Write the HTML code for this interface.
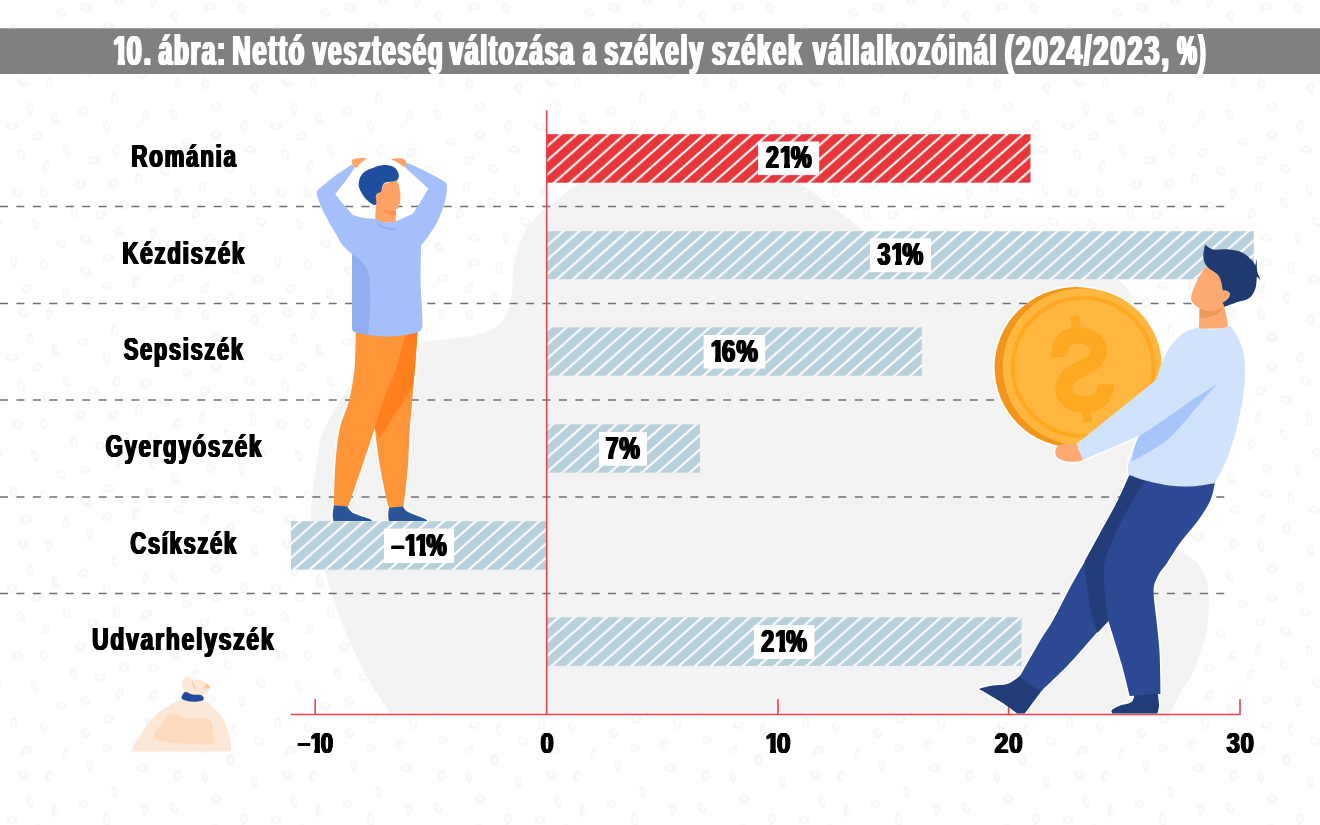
<!DOCTYPE html>
<html lang="hu">
<head>
<meta charset="utf-8">
<title>10. ábra: Nettó veszteség változása a székely székek vállalkozóinál (2024/2023, %)</title>
<style>
html,body{margin:0;padding:0;background:#fff;}
body{width:1320px;height:825px;overflow:hidden;font-family:"Liberation Sans",sans-serif;}
svg{display:block;position:absolute;left:0;top:0;}
#stage{position:relative;width:1320px;height:825px;overflow:hidden;}
#txt{position:absolute;left:0;top:0;width:1320px;height:825px;}
.t{position:absolute;left:0;top:0;white-space:nowrap;font-family:"Liberation Sans",sans-serif;font-weight:bold;line-height:1;color:#000;transform-origin:0 0;font-kerning:none;}
.t.w{color:#fff;}
.t i{display:inline-block;font-style:normal;margin-right:-0.13em;}
.t span{position:absolute;left:0;top:0;transform-origin:0 0;}
</style>
</head>
<body>
<div id="stage">
<svg width="1320" height="825" viewBox="0 0 1320 825">
<defs>
  <pattern id="hatchR" patternUnits="userSpaceOnUse" width="15.93" height="14.146" patternTransform="translate(549.6 144.35)">
    <rect width="15.93" height="14.146" fill="#e8363a"/>
    <path d="M-15.93 14.146L0 0M-7.965 21.219L23.895 -7.073M15.93 14.146L31.86 0" stroke="#fff" stroke-width="2.1" stroke-linecap="square" fill="none"/>
  </pattern>
  <pattern id="hatchB" patternUnits="userSpaceOnUse" width="15.93" height="14.146" patternTransform="translate(549.6 144.35)">
    <rect width="15.93" height="14.146" fill="#b8d0dc"/>
    <path d="M-15.93 14.146L0 0M-7.965 21.219L23.895 -7.073M15.93 14.146L31.86 0" stroke="#fff" stroke-width="2.1" stroke-linecap="square" fill="none"/>
  </pattern>
  <pattern id="coins" patternUnits="userSpaceOnUse" width="264" height="231">
    <g transform="translate(164.4 171.4) rotate(31)"><ellipse rx="6.1" ry="4.5" fill="#f8f8f8"/><ellipse cx="0.0" cy="-0.7" rx="2.4" ry="2.0" fill="#fefefe"/></g>
    <g transform="translate(195.3 213.1) rotate(24)"><ellipse rx="3.9" ry="6.3" fill="#f8f8f8"/><ellipse cx="0.7" cy="0.0" rx="1.4" ry="2.9" fill="#fefefe"/></g>
    <g transform="translate(204.9 57.5) rotate(28)"><ellipse rx="3.9" ry="6.3" fill="#f8f8f8"/><ellipse cx="0.7" cy="0.0" rx="1.4" ry="2.9" fill="#fefefe"/></g>
    <g transform="translate(29.9 108.4) rotate(-8)"><ellipse rx="3.9" ry="6.3" fill="#f8f8f8"/><ellipse cx="0.7" cy="0.0" rx="1.4" ry="2.9" fill="#fefefe"/></g>
    <g transform="translate(26.9 57.6) rotate(-20)"><ellipse rx="6.1" ry="4.5" fill="#f8f8f8"/><ellipse cx="0.0" cy="-0.7" rx="2.4" ry="2.0" fill="#fefefe"/></g>
    <g transform="translate(73.8 211.7) rotate(-24)"><ellipse rx="3.9" ry="6.3" fill="#f8f8f8"/><ellipse cx="0.7" cy="0.0" rx="1.4" ry="2.9" fill="#fefefe"/></g>
    <g transform="translate(210.4 32.1) rotate(-4)"><ellipse rx="6.1" ry="4.5" fill="#f8f8f8"/><ellipse cx="0.0" cy="-0.7" rx="2.4" ry="2.0" fill="#fefefe"/></g>
    <g transform="translate(34.9 -6.4) rotate(-20)"><ellipse rx="3.9" ry="6.3" fill="#f8f8f8"/><ellipse cx="0.7" cy="0.0" rx="1.4" ry="2.9" fill="#fefefe"/></g>
    <g transform="translate(34.9 224.6) rotate(-20)"><ellipse rx="3.9" ry="6.3" fill="#f8f8f8"/><ellipse cx="0.7" cy="0.0" rx="1.4" ry="2.9" fill="#fefefe"/></g>
    <g transform="translate(230.3 66.8) rotate(3)"><ellipse rx="3.9" ry="6.3" fill="#f8f8f8"/><ellipse cx="0.7" cy="0.0" rx="1.4" ry="2.9" fill="#fefefe"/></g>
    <g transform="translate(178.9 47.3) rotate(-21)"><ellipse rx="6.1" ry="4.5" fill="#f8f8f8"/><ellipse cx="0.0" cy="-0.7" rx="2.4" ry="2.0" fill="#fefefe"/></g>
    <g transform="translate(254.8 88.5) rotate(-10)"><ellipse rx="3.9" ry="6.3" fill="#f8f8f8"/><ellipse cx="0.7" cy="0.0" rx="1.4" ry="2.9" fill="#fefefe"/></g>
    <g transform="translate(43.8 33.7) rotate(-12)"><ellipse rx="3.9" ry="6.3" fill="#f8f8f8"/><ellipse cx="0.7" cy="0.0" rx="1.4" ry="2.9" fill="#fefefe"/></g>
    <g transform="translate(215.8 135.4) rotate(12)"><ellipse rx="6.1" ry="4.5" fill="#f8f8f8"/><ellipse cx="0.0" cy="-0.7" rx="2.4" ry="2.0" fill="#fefefe"/></g>
    <g transform="translate(89.2 71.6) rotate(-1)"><ellipse rx="3.9" ry="6.3" fill="#f8f8f8"/><ellipse cx="0.7" cy="0.0" rx="1.4" ry="2.9" fill="#fefefe"/></g>
    <g transform="translate(83.4 111.2) rotate(-23)"><ellipse rx="6.1" ry="4.5" fill="#f8f8f8"/><ellipse cx="0.0" cy="-0.7" rx="2.4" ry="2.0" fill="#fefefe"/></g>
    <g transform="translate(106.7 126.8) rotate(-9)"><ellipse rx="3.9" ry="6.3" fill="#f8f8f8"/><ellipse cx="0.7" cy="0.0" rx="1.4" ry="2.9" fill="#fefefe"/></g>
    <g transform="translate(152.7 2.1) rotate(15)"><ellipse rx="3.9" ry="6.3" fill="#f8f8f8"/><ellipse cx="0.7" cy="0.0" rx="1.4" ry="2.9" fill="#fefefe"/></g>
    <g transform="translate(152.7 233.1) rotate(15)"><ellipse rx="3.9" ry="6.3" fill="#f8f8f8"/><ellipse cx="0.7" cy="0.0" rx="1.4" ry="2.9" fill="#fefefe"/></g>
    <g transform="translate(216.3 106.8) rotate(-10)"><ellipse rx="6.1" ry="4.5" fill="#f8f8f8"/><ellipse cx="0.0" cy="-0.7" rx="2.4" ry="2.0" fill="#fefefe"/></g>
    <g transform="translate(138.5 179.2) rotate(6)"><ellipse rx="3.9" ry="6.3" fill="#f8f8f8"/><ellipse cx="0.7" cy="0.0" rx="1.4" ry="2.9" fill="#fefefe"/></g>
    <g transform="translate(-5.7 48.2) rotate(8)"><ellipse rx="6.1" ry="4.5" fill="#f8f8f8"/><ellipse cx="0.0" cy="-0.7" rx="2.4" ry="2.0" fill="#fefefe"/></g>
    <g transform="translate(258.3 48.2) rotate(8)"><ellipse rx="6.1" ry="4.5" fill="#f8f8f8"/><ellipse cx="0.0" cy="-0.7" rx="2.4" ry="2.0" fill="#fefefe"/></g>
    <g transform="translate(244.0 125.9) rotate(13)"><ellipse rx="3.9" ry="6.3" fill="#f8f8f8"/><ellipse cx="0.7" cy="0.0" rx="1.4" ry="2.9" fill="#fefefe"/></g>
    <g transform="translate(80.8 184.5) rotate(-25)"><ellipse rx="6.1" ry="4.5" fill="#f8f8f8"/><ellipse cx="0.0" cy="-0.7" rx="2.4" ry="2.0" fill="#fefefe"/></g>
    <g transform="translate(107.2 54.8) rotate(-11)"><ellipse rx="6.1" ry="4.5" fill="#f8f8f8"/><ellipse cx="0.0" cy="-0.7" rx="2.4" ry="2.0" fill="#fefefe"/></g>
    <g transform="translate(66.1 150.4) rotate(-31)"><ellipse rx="3.9" ry="6.3" fill="#f8f8f8"/><ellipse cx="0.7" cy="0.0" rx="1.4" ry="2.9" fill="#fefefe"/></g>
    <g transform="translate(241.8 7.6) rotate(-12)"><ellipse rx="3.9" ry="6.3" fill="#f8f8f8"/><ellipse cx="0.7" cy="0.0" rx="1.4" ry="2.9" fill="#fefefe"/></g>
    <g transform="translate(241.8 238.6) rotate(-12)"><ellipse rx="3.9" ry="6.3" fill="#f8f8f8"/><ellipse cx="0.7" cy="0.0" rx="1.4" ry="2.9" fill="#fefefe"/></g>
    <g transform="translate(148.9 30.7) rotate(-28)"><ellipse rx="3.9" ry="6.3" fill="#f8f8f8"/><ellipse cx="0.7" cy="0.0" rx="1.4" ry="2.9" fill="#fefefe"/></g>
    <g transform="translate(119.6 -0.2) rotate(33)"><ellipse rx="3.9" ry="6.3" fill="#f8f8f8"/><ellipse cx="0.7" cy="0.0" rx="1.4" ry="2.9" fill="#fefefe"/></g>
    <g transform="translate(119.6 230.8) rotate(33)"><ellipse rx="3.9" ry="6.3" fill="#f8f8f8"/><ellipse cx="0.7" cy="0.0" rx="1.4" ry="2.9" fill="#fefefe"/></g>
    <g transform="translate(-3.1 221.7) rotate(31)"><ellipse rx="6.1" ry="4.5" fill="#f8f8f8"/><ellipse cx="0.0" cy="-0.7" rx="2.4" ry="2.0" fill="#fefefe"/></g>
    <g transform="translate(260.9 221.7) rotate(31)"><ellipse rx="6.1" ry="4.5" fill="#f8f8f8"/><ellipse cx="0.0" cy="-0.7" rx="2.4" ry="2.0" fill="#fefefe"/></g>
    <g transform="translate(144.7 116.2) rotate(20)"><ellipse rx="3.9" ry="6.3" fill="#f8f8f8"/><ellipse cx="0.7" cy="0.0" rx="1.4" ry="2.9" fill="#fefefe"/></g>
    <g transform="translate(204.6 160.5) rotate(-33)"><ellipse rx="6.1" ry="4.5" fill="#f8f8f8"/><ellipse cx="0.0" cy="-0.7" rx="2.4" ry="2.0" fill="#fefefe"/></g>
    <g transform="translate(176.4 192.9) rotate(19)"><ellipse rx="3.9" ry="6.3" fill="#f8f8f8"/><ellipse cx="0.7" cy="0.0" rx="1.4" ry="2.9" fill="#fefefe"/></g>
    <g transform="translate(249.6 150.1) rotate(25)"><ellipse rx="6.1" ry="4.5" fill="#f8f8f8"/><ellipse cx="0.0" cy="-0.7" rx="2.4" ry="2.0" fill="#fefefe"/></g>
    <g transform="translate(177.8 82.4) rotate(10)"><ellipse rx="3.9" ry="6.3" fill="#f8f8f8"/><ellipse cx="0.7" cy="0.0" rx="1.4" ry="2.9" fill="#fefefe"/></g>
    <g transform="translate(43.9 193.3) rotate(-15)"><ellipse rx="3.9" ry="6.3" fill="#f8f8f8"/><ellipse cx="0.7" cy="0.0" rx="1.4" ry="2.9" fill="#fefefe"/></g>
    <g transform="translate(20.8 155.0) rotate(-23)"><ellipse rx="3.9" ry="6.3" fill="#f8f8f8"/><ellipse cx="0.7" cy="0.0" rx="1.4" ry="2.9" fill="#fefefe"/></g>
    <g transform="translate(116.4 150.2) rotate(18)"><ellipse rx="3.9" ry="6.3" fill="#f8f8f8"/><ellipse cx="0.7" cy="0.0" rx="1.4" ry="2.9" fill="#fefefe"/></g>
    <g transform="translate(174.9 16.6) rotate(-18)"><ellipse rx="3.9" ry="6.3" fill="#f8f8f8"/><ellipse cx="0.7" cy="0.0" rx="1.4" ry="2.9" fill="#fefefe"/></g>
    <g transform="translate(108.3 26.6) rotate(-9)"><ellipse rx="6.1" ry="4.5" fill="#f8f8f8"/><ellipse cx="0.0" cy="-0.7" rx="2.4" ry="2.0" fill="#fefefe"/></g>
    <g transform="translate(253.0 189.1) rotate(-6)"><ellipse rx="3.9" ry="6.3" fill="#f8f8f8"/><ellipse cx="0.7" cy="0.0" rx="1.4" ry="2.9" fill="#fefefe"/></g>
    <g transform="translate(142.4 75.2) rotate(-9)"><ellipse rx="6.1" ry="4.5" fill="#f8f8f8"/><ellipse cx="0.0" cy="-0.7" rx="2.4" ry="2.0" fill="#fefefe"/></g>
    <g transform="translate(64.9 61.8) rotate(16)"><ellipse rx="3.9" ry="6.3" fill="#f8f8f8"/><ellipse cx="0.7" cy="0.0" rx="1.4" ry="2.9" fill="#fefefe"/></g>
    <g transform="translate(228.0 203.4) rotate(-34)"><ellipse rx="3.9" ry="6.3" fill="#f8f8f8"/><ellipse cx="0.7" cy="0.0" rx="1.4" ry="2.9" fill="#fefefe"/></g>
    <g transform="translate(186.9 141.7) rotate(2)"><ellipse rx="6.1" ry="4.5" fill="#f8f8f8"/><ellipse cx="0.0" cy="-0.7" rx="2.4" ry="2.0" fill="#fefefe"/></g>
    <g transform="translate(17.4 193.2) rotate(20)"><ellipse rx="6.1" ry="4.5" fill="#f8f8f8"/><ellipse cx="0.0" cy="-0.7" rx="2.4" ry="2.0" fill="#fefefe"/></g>
    <g transform="translate(146.7 152.5) rotate(-30)"><ellipse rx="6.1" ry="4.5" fill="#f8f8f8"/><ellipse cx="0.0" cy="-0.7" rx="2.4" ry="2.0" fill="#fefefe"/></g>
    <g transform="translate(210.3 6.8) rotate(-8)"><ellipse rx="6.1" ry="4.5" fill="#f8f8f8"/><ellipse cx="0.0" cy="-0.7" rx="2.4" ry="2.0" fill="#fefefe"/></g>
    <g transform="translate(210.3 237.8) rotate(-8)"><ellipse rx="6.1" ry="4.5" fill="#f8f8f8"/><ellipse cx="0.0" cy="-0.7" rx="2.4" ry="2.0" fill="#fefefe"/></g>
    <g transform="translate(113.3 183.5) rotate(-27)"><ellipse rx="6.1" ry="4.5" fill="#f8f8f8"/><ellipse cx="0.0" cy="-0.7" rx="2.4" ry="2.0" fill="#fefefe"/></g>
    <g transform="translate(124.1 205.5) rotate(30)"><ellipse rx="6.1" ry="4.5" fill="#f8f8f8"/><ellipse cx="0.0" cy="-0.7" rx="2.4" ry="2.0" fill="#fefefe"/></g>
    <g transform="translate(48.7 83.5) rotate(16)"><ellipse rx="3.9" ry="6.3" fill="#f8f8f8"/><ellipse cx="0.7" cy="0.0" rx="1.4" ry="2.9" fill="#fefefe"/></g>
    <g transform="translate(11.9 126.7) rotate(5)"><ellipse rx="6.1" ry="4.5" fill="#f8f8f8"/><ellipse cx="0.0" cy="-0.7" rx="2.4" ry="2.0" fill="#fefefe"/></g>
    <g transform="translate(85.3 7.9) rotate(18)"><ellipse rx="6.1" ry="4.5" fill="#f8f8f8"/><ellipse cx="0.0" cy="-0.7" rx="2.4" ry="2.0" fill="#fefefe"/></g>
    <g transform="translate(85.3 238.9) rotate(18)"><ellipse rx="6.1" ry="4.5" fill="#f8f8f8"/><ellipse cx="0.0" cy="-0.7" rx="2.4" ry="2.0" fill="#fefefe"/></g>
    <g transform="translate(13.4 30.1) rotate(-4)"><ellipse rx="3.9" ry="6.3" fill="#f8f8f8"/><ellipse cx="0.7" cy="0.0" rx="1.4" ry="2.9" fill="#fefefe"/></g>
    <g transform="translate(114.7 99.2) rotate(-13)"><ellipse rx="3.9" ry="6.3" fill="#f8f8f8"/><ellipse cx="0.7" cy="0.0" rx="1.4" ry="2.9" fill="#fefefe"/></g>
    <g transform="translate(23.0 82.2) rotate(25)"><ellipse rx="6.1" ry="4.5" fill="#f8f8f8"/><ellipse cx="0.0" cy="-0.7" rx="2.4" ry="2.0" fill="#fefefe"/></g>
    <g transform="translate(85.6 39.9) rotate(34)"><ellipse rx="6.1" ry="4.5" fill="#f8f8f8"/><ellipse cx="0.0" cy="-0.7" rx="2.4" ry="2.0" fill="#fefefe"/></g>
    <g transform="translate(173.6 115.0) rotate(-24)"><ellipse rx="3.9" ry="6.3" fill="#f8f8f8"/><ellipse cx="0.7" cy="0.0" rx="1.4" ry="2.9" fill="#fefefe"/></g>
    <g transform="translate(55.2 118.9) rotate(-8)"><ellipse rx="3.9" ry="6.3" fill="#f8f8f8"/><ellipse cx="0.7" cy="0.0" rx="1.4" ry="2.9" fill="#fefefe"/></g>
    <g transform="translate(46.3 166.3) rotate(24)"><ellipse rx="3.9" ry="6.3" fill="#f8f8f8"/><ellipse cx="0.7" cy="0.0" rx="1.4" ry="2.9" fill="#fefefe"/></g>
    <g transform="translate(61.3 12.8) rotate(16)"><ellipse rx="6.1" ry="4.5" fill="#f8f8f8"/><ellipse cx="0.0" cy="-0.7" rx="2.4" ry="2.0" fill="#fefefe"/></g>
    <g transform="translate(92.8 160.5) rotate(-18)"><ellipse rx="6.1" ry="4.5" fill="#f8f8f8"/><ellipse cx="0.0" cy="-0.7" rx="2.4" ry="2.0" fill="#fefefe"/></g>
    <g transform="translate(153.6 206.2) rotate(6)"><ellipse rx="6.1" ry="4.5" fill="#f8f8f8"/><ellipse cx="0.0" cy="-0.7" rx="2.4" ry="2.0" fill="#fefefe"/></g>
    <g transform="translate(202.0 187.5) rotate(21)"><ellipse rx="3.9" ry="6.3" fill="#f8f8f8"/><ellipse cx="0.7" cy="0.0" rx="1.4" ry="2.9" fill="#fefefe"/></g>
    <g transform="translate(229.4 169.1) rotate(26)"><ellipse rx="6.1" ry="4.5" fill="#f8f8f8"/><ellipse cx="0.0" cy="-0.7" rx="2.4" ry="2.0" fill="#fefefe"/></g>
    <g transform="translate(100.3 215.5) rotate(-11)"><ellipse rx="6.1" ry="4.5" fill="#f8f8f8"/><ellipse cx="0.0" cy="-0.7" rx="2.4" ry="2.0" fill="#fefefe"/></g>
    <g transform="translate(135.6 51.5) rotate(12)"><ellipse rx="3.9" ry="6.3" fill="#f8f8f8"/><ellipse cx="0.7" cy="0.0" rx="1.4" ry="2.9" fill="#fefefe"/></g>
    <g transform="translate(205.0 83.8) rotate(-10)"><ellipse rx="3.9" ry="6.3" fill="#f8f8f8"/><ellipse cx="0.7" cy="0.0" rx="1.4" ry="2.9" fill="#fefefe"/></g>
    <g transform="translate(235.0 36.9) rotate(-3)"><ellipse rx="3.9" ry="6.3" fill="#f8f8f8"/><ellipse cx="0.7" cy="0.0" rx="1.4" ry="2.9" fill="#fefefe"/></g>
    <g transform="translate(37.1 136.1) rotate(-33)"><ellipse rx="6.1" ry="4.5" fill="#f8f8f8"/><ellipse cx="0.0" cy="-0.7" rx="2.4" ry="2.0" fill="#fefefe"/></g>
  </pattern>
</defs>
<rect width="1320" height="825" fill="#fff"/>
<rect width="1320" height="825" fill="url(#coins)"/>
<!-- background blob -->
<path d="M580.0 183.3L800.0 183.0L865.0 231.0L1119.0 279.0L1133.0 296.5L1122.0 320.0L1140.0 345.0L1150.0 440.0L1150.0 520.0L1166.0 541.0C1166.0 541.0 1172.8 545.4 1178.0 549.0C1183.2 552.6 1192.2 557.2 1197.0 562.7C1201.8 568.2 1204.8 575.0 1206.8 581.8C1208.8 588.6 1208.7 595.4 1208.7 603.6C1208.7 611.8 1208.2 622.7 1206.8 630.9C1205.3 639.1 1202.3 645.7 1200.0 652.7C1197.7 659.7 1196.2 666.5 1193.0 673.0C1189.8 679.5 1184.4 685.1 1180.6 692.0C1176.8 698.9 1170.0 714.5 1170.0 714.5L391.4 714.5C391.4 714.5 374.0 689.6 366.0 675.0C358.0 660.4 350.5 644.5 343.6 627.0C336.7 609.5 329.8 587.7 324.5 570.0C319.2 552.3 314.1 532.7 312.0 521.0C310.3 511.6 311.1 509.5 312.0 500.0C313.2 487.8 317.0 459.7 319.0 448.0C320.4 439.6 320.7 437.5 324.0 430.0C327.3 422.5 333.0 412.2 339.0 403.0C345.0 393.8 347.2 384.4 360.0 375.0C373.7 365.0 407.7 348.8 421.0 343.0C429.0 339.5 434.6 340.8 440.0 340.0C445.4 339.2 447.3 339.2 453.3 338.3C460.5 337.2 475.0 336.4 483.3 333.3C491.6 330.2 498.6 326.1 503.3 320.0C508.0 313.9 510.0 305.0 511.7 296.7C513.4 288.4 511.9 278.9 513.3 270.0C514.7 261.1 516.7 251.6 520.0 243.3C523.3 235.0 527.8 226.7 533.3 220.0C538.8 213.3 547.7 208.0 553.3 203.3C558.9 198.6 562.5 195.3 567.0 192.0C571.5 188.7 580.0 183.3 580.0 183.3Z" fill="#f3f3f3"/>
<path d="M354.5 166.0L405.0 166.0L429.0 188.6L412.7 215.0L396.0 222.0L375.0 220.0L353.3 216.0L334.5 194.0L354.5 166.0Z" fill="#fff"/>
<g stroke="#fff" stroke-width="3.4" stroke-linejoin="round" opacity="0.9"><path d="M355.8 331.0L417.8 331.0C417.8 331.0 416.1 354.4 415.2 366.4C414.2 378.3 413.0 392.1 412.1 402.7C411.2 413.3 410.4 419.4 409.7 430.0C409.0 440.6 408.9 453.6 407.9 466.4C406.9 479.2 403.6 506.8 403.6 506.8L389.1 507.6C389.1 507.6 387.8 505.0 387.3 502.7C385.8 495.8 382.1 478.8 380.0 466.4C377.9 453.9 374.8 428.0 374.8 428.0C374.8 428.0 368.4 447.9 364.2 460.3C360.0 472.8 352.4 494.9 349.7 502.7C349.0 504.6 347.9 506.8 347.9 506.8L333.9 505.6C333.9 505.6 334.3 479.0 335.2 466.4C336.1 453.8 337.2 440.6 339.4 430.0C341.6 419.4 346.2 411.3 348.5 402.7C350.8 394.1 352.2 385.6 353.3 378.5C354.4 371.4 354.8 368.2 355.2 360.3C355.6 352.4 355.8 331.0 355.8 331.0Z" fill="#ff9539"/><path d="M333.9 505.2L347.3 506.4C347.3 506.4 349.5 510.7 352.1 512.4C354.7 514.1 359.9 515.6 363.0 516.7C366.1 517.8 369.0 518.5 370.5 519.2C371.4 519.6 372.0 520.9 372.0 520.9L333.6 520.9C333.6 520.9 332.6 517.4 332.7 514.8C332.8 512.2 333.9 505.2 333.9 505.2Z" fill="#2a5597"/><path d="M389.1 507.6L403.0 506.4C403.0 506.4 404.5 509.7 406.7 511.2C408.9 512.7 413.2 514.2 416.4 515.5C419.6 516.8 423.9 518.3 425.7 519.2C426.6 519.7 427.2 520.9 427.2 520.9L388.9 520.9C388.9 520.9 388.2 517.0 388.2 514.8C388.2 512.6 389.1 507.6 389.1 507.6Z" fill="#2a5597"/><path d="M383.6 183.8C383.6 183.8 389.9 182.0 392.1 181.4C394.3 180.8 397.0 180.4 397.0 180.4C397.0 180.4 398.3 183.2 398.8 185.0C399.3 186.8 399.7 188.9 400.0 191.1C400.3 193.3 400.5 196.1 400.4 198.3C400.3 200.5 400.1 202.8 399.6 204.4C399.1 206.0 398.2 207.1 397.6 208.0C397.0 208.9 395.8 209.8 395.8 209.8L395.8 223.0L375.2 222.0C375.2 222.0 375.2 215.8 375.4 212.9C375.5 210.0 376.0 207.2 376.1 204.6C376.2 202.0 375.5 199.0 375.8 197.1C376.1 195.2 377.2 194.3 378.2 192.9C379.2 191.5 380.9 190.1 381.8 188.6C382.7 187.1 383.6 183.8 383.6 183.8Z" fill="#ffa466"/><path d="M358.8 182.6C359.1 181.0 359.5 178.4 360.6 176.5C361.7 174.6 363.5 172.5 365.5 171.1C367.5 169.7 370.5 168.9 372.7 168.0C374.9 167.1 376.8 166.3 378.8 165.8C380.8 165.3 382.8 165.0 384.8 165.0C386.8 165.0 389.1 165.2 390.9 165.8C392.7 166.4 394.6 167.3 395.8 168.6C397.1 169.9 397.9 172.2 398.4 173.5C398.9 174.8 399.0 175.4 398.8 176.5C398.6 177.6 398.1 179.4 397.0 180.2C395.9 181.0 393.7 181.1 392.1 181.4C390.5 181.7 388.7 181.6 387.3 182.0C385.9 182.4 384.5 182.7 383.6 183.8C382.7 184.9 382.2 187.3 381.8 188.6C381.4 189.9 381.6 191.0 381.0 191.7C380.4 192.4 379.0 192.4 378.2 192.9C377.4 193.4 376.8 194.0 376.4 194.7C376.0 195.4 375.8 196.0 375.8 197.1C375.8 198.3 376.3 200.8 376.4 202.0C376.4 203.2 376.1 204.6 376.1 204.6C376.1 204.6 374.9 205.4 373.9 205.0C372.7 204.6 370.7 203.3 369.1 202.0C367.5 200.7 365.6 198.9 364.2 197.1C362.8 195.3 361.5 192.9 360.6 191.1C359.7 189.3 359.1 187.6 358.8 186.2C358.5 184.8 358.5 184.2 358.8 182.6Z" fill="#1f4e9f"/><path d="M352.1 160.2C352.9 159.2 354.9 158.7 357.0 158.3C359.1 157.9 363.4 157.5 364.8 157.7C365.7 157.8 366.0 158.8 365.5 159.5C364.8 160.4 362.0 161.9 360.6 163.2C359.2 164.5 357.0 167.4 357.0 167.4L353.9 167.4C353.9 167.4 352.7 165.6 352.4 164.4C352.1 163.2 351.3 161.2 352.1 160.2Z" fill="#ffa466"/><path d="M391.5 159.5C391.7 159.0 395.0 158.4 397.0 158.3C399.0 158.2 402.1 158.3 403.6 158.9C405.1 159.5 405.6 161.0 406.1 162.0C406.6 163.0 406.7 165.0 406.7 165.0L404.2 167.1C404.2 167.1 402.0 165.3 400.6 164.4C399.2 163.5 397.3 162.2 395.8 161.4C394.3 160.6 391.3 160.0 391.5 159.5Z" fill="#ffa466"/><path d="M352.1 164.4C352.1 164.4 344.0 169.5 340.0 172.3C336.0 175.1 331.3 178.7 327.9 181.4C324.5 184.1 321.3 186.7 319.4 188.6C317.8 190.3 317.0 191.5 316.7 192.9C316.4 194.3 317.0 195.2 317.6 197.1C318.4 199.4 319.5 203.0 321.2 206.8C322.9 210.7 325.4 215.5 327.9 220.2C330.4 224.8 334.0 230.6 336.4 234.7C338.8 238.8 339.8 241.8 342.4 245.0C345.0 248.2 352.1 254.0 352.1 254.0C352.1 254.0 351.8 313.1 352.1 326.0C352.2 328.6 351.6 330.4 354.0 331.5C357.3 333.1 366.0 334.7 372.0 335.5C378.0 336.3 384.0 336.7 390.0 336.5C396.0 336.3 402.9 335.5 408.0 334.5C413.1 333.5 418.1 332.9 420.5 330.5C422.9 328.1 422.4 324.9 422.4 320.0C422.4 311.6 420.8 292.5 420.6 280.0C420.4 267.5 421.2 245.0 421.2 245.0C421.2 245.0 425.9 239.6 428.5 235.9C431.1 232.2 434.6 227.2 437.0 222.6C439.4 217.9 441.5 212.4 443.0 208.0C444.5 203.6 445.5 199.5 446.1 195.9C446.8 192.3 447.0 188.4 446.9 186.2C446.8 184.4 446.8 183.8 445.5 182.6C443.6 181.0 439.9 178.7 435.8 176.5C431.8 174.3 426.1 171.5 421.2 169.2C416.3 166.9 406.7 162.6 406.7 162.6L404.8 167.1C404.8 167.1 412.4 174.1 416.4 177.7C420.3 181.3 428.5 188.6 428.5 188.6C428.5 188.6 423.8 196.6 421.2 200.8C418.6 205.1 412.7 214.1 412.7 214.1C412.7 214.1 407.0 216.5 404.2 217.7C401.4 218.9 395.8 221.4 395.8 221.4C395.8 221.4 389.4 222.9 386.0 222.5C382.6 222.1 375.2 218.9 375.2 218.9C375.2 218.9 366.6 218.3 363.0 217.7C359.4 217.1 353.3 215.3 353.3 215.3C353.3 215.3 345.4 206.7 342.4 203.2C339.4 199.7 335.2 194.1 335.2 194.1C335.2 194.1 342.9 184.5 346.1 180.2C349.3 175.8 354.5 168.0 354.5 168.0L352.1 164.4Z" fill="#a5bffb"/><ellipse cx="1075.8" cy="367.4" rx="81.2" ry="80.3" fill="#f2951b"/><ellipse cx="1082.3" cy="366.8" rx="79.6" ry="78.6" fill="#ffb73f"/><path d="M979.1 688.9C979.1 688.9 987.0 686.6 991.8 685.8C996.6 684.9 1003.1 685.6 1008.0 683.8C1012.9 682.0 1021.0 675.0 1021.0 675.0L1043.0 689.0L1024.7 713.6L1017.3 713.6C1017.3 713.6 1008.8 706.8 1002.4 702.7C996.0 698.6 979.1 688.9 979.1 688.9Z" fill="#223c77"/><path d="M1112.7 713.6C1112.7 713.6 1110.7 711.4 1111.7 710.2C1112.8 708.9 1115.8 707.3 1119.1 705.9C1122.4 704.5 1129.2 703.9 1131.8 701.7C1134.4 699.6 1134.5 693.0 1134.5 693.0L1157.3 691.0C1157.3 691.0 1159.0 701.1 1159.0 704.9C1159.0 708.7 1157.3 713.6 1157.3 713.6L1112.7 713.6Z" fill="#223c77"/><path d="M1129.2 475.6L1170.0 470.0L1214.8 483.2C1214.8 483.2 1213.1 494.4 1210.3 500.6C1207.5 506.8 1203.2 513.2 1198.2 520.3C1193.2 527.4 1185.2 535.9 1180.0 543.0C1174.8 550.1 1170.6 557.6 1167.0 563.0C1163.4 568.4 1160.4 570.7 1158.2 575.2C1156.0 579.8 1153.9 583.1 1153.6 590.3C1153.3 597.9 1155.5 610.4 1156.5 620.6C1157.5 630.9 1158.8 639.6 1159.5 651.8C1160.2 664.0 1160.5 694.0 1160.5 694.0L1129.7 696.0C1129.7 696.0 1124.8 675.0 1121.2 662.4C1117.6 649.8 1108.2 620.2 1108.2 620.2C1108.2 620.2 1101.9 627.0 1096.7 632.7C1090.0 640.2 1077.3 655.2 1068.0 665.0C1058.7 674.8 1040.6 691.5 1040.6 691.5L1019.4 677.3C1019.4 677.3 1034.3 650.5 1040.0 641.0C1045.7 631.5 1048.2 629.0 1053.3 620.0C1058.3 611.0 1065.1 597.0 1070.3 587.3C1075.5 577.6 1079.6 570.9 1084.5 562.0C1089.4 553.1 1094.1 544.1 1099.7 533.9C1105.3 523.7 1113.0 510.3 1117.9 500.6C1122.8 490.9 1129.2 475.6 1129.2 475.6Z" fill="#2b4a93"/><path d="M1207.0 266.4C1204.0 266.6 1201.7 272.9 1199.7 276.1C1197.7 279.3 1196.1 282.8 1194.8 285.8C1193.5 288.8 1192.4 292.0 1191.8 294.2C1191.2 296.4 1191.0 297.6 1191.2 299.1C1191.4 300.6 1191.6 301.7 1193.0 303.3C1194.4 304.9 1199.7 308.8 1199.7 308.8L1198.8 329.0L1228.5 328.0L1224.5 307.0L1222.7 302.7C1222.7 302.7 1226.4 300.5 1227.6 299.1C1228.8 297.7 1230.0 295.5 1230.0 294.2C1230.0 292.9 1228.8 291.8 1227.6 291.2C1226.4 290.6 1222.7 290.6 1222.7 290.6C1222.7 290.6 1222.3 285.9 1221.5 283.3C1220.7 280.7 1220.3 277.6 1217.9 274.8C1215.5 272.0 1210.0 266.2 1207.0 266.4Z" fill="#fcaa72"/><path d="M1205.2 244.5C1205.2 244.5 1209.1 248.6 1213.0 249.4C1216.9 250.2 1224.0 248.9 1228.8 249.4C1233.6 249.9 1238.3 250.6 1242.1 252.4C1245.9 254.2 1249.6 258.1 1251.8 260.3C1253.8 262.3 1255.3 265.4 1255.3 265.4L1256.7 258.6C1256.7 258.6 1256.6 267.6 1257.3 271.2C1258.0 274.8 1260.9 280.0 1260.9 280.0L1256.7 276.7C1256.7 276.7 1256.7 284.7 1255.5 288.2C1254.3 291.7 1252.4 295.6 1249.4 297.9C1246.4 300.2 1241.5 300.6 1237.3 302.1C1233.1 303.6 1224.5 307.0 1224.5 307.0L1222.7 302.7C1222.7 302.7 1226.4 300.5 1227.6 299.1C1228.8 297.7 1230.0 295.5 1230.0 294.2C1230.0 292.9 1228.8 291.8 1227.6 291.2C1226.4 290.6 1222.7 290.6 1222.7 290.6C1222.7 290.6 1222.3 285.9 1221.5 283.3C1220.7 280.7 1220.3 277.6 1217.9 274.8C1215.5 272.0 1209.4 269.4 1207.0 266.4C1204.6 263.4 1203.6 260.3 1203.3 256.7C1203.0 253.0 1205.2 244.5 1205.2 244.5Z" fill="#1f3a6e"/><path d="M1197.0 327.4C1197.0 327.4 1207.5 329.8 1213.0 329.5C1218.5 329.2 1230.3 325.9 1230.3 325.9C1230.3 325.9 1235.6 332.4 1237.9 337.3C1240.2 342.2 1242.7 349.4 1243.9 355.5C1245.1 361.6 1245.2 366.0 1245.0 373.6C1244.8 381.2 1244.2 390.5 1242.4 400.9C1240.7 411.3 1237.3 425.7 1234.5 436.0C1231.7 446.3 1228.8 454.8 1225.5 462.7C1222.2 470.6 1214.8 483.2 1214.8 483.2C1214.8 483.2 1200.9 485.8 1193.6 486.2C1186.3 486.6 1179.2 486.8 1170.9 485.8C1162.6 484.8 1150.8 482.0 1143.6 480.0C1136.4 478.0 1128.0 474.0 1128.0 474.0C1128.0 474.0 1127.9 466.7 1128.5 463.5C1129.1 460.3 1130.0 458.7 1131.5 454.8C1133.3 450.2 1139.1 435.6 1139.1 435.6C1139.1 435.6 1125.8 441.8 1116.4 445.8C1107.1 449.8 1083.0 459.8 1083.0 459.8L1076.5 444.0C1076.5 444.0 1091.1 432.2 1100.0 425.0C1108.9 417.8 1120.7 408.6 1130.0 401.0C1139.3 393.4 1156.1 379.7 1156.1 379.7C1156.1 379.7 1158.6 371.2 1160.6 366.1C1162.6 361.1 1164.7 354.7 1168.2 349.4C1171.7 344.1 1177.0 337.9 1181.8 334.2C1186.6 330.5 1197.0 327.4 1197.0 327.4Z" fill="#d1e2fc"/><path d="M1055.8 448.8C1056.7 446.8 1058.5 445.1 1061.8 444.2C1065.2 443.3 1076.0 443.5 1076.0 443.5L1083.0 459.4C1083.0 459.4 1079.9 461.5 1077.0 461.7C1074.0 461.9 1068.2 461.8 1064.8 460.9C1061.4 460.0 1058.0 458.4 1056.5 456.4C1055.0 454.4 1054.9 450.8 1055.8 448.8Z" fill="#fcaa72"/></g>
<!-- title bar -->
<rect x="0" y="28.3" width="1320" height="45.7" fill="#808080"/>
<!-- dashed separators -->
<g stroke="#707070" stroke-width="1.3" stroke-dasharray="8 8.436" fill="none">
  <path d="M0 206.5H1225"/>
  <path d="M0 303.5H1225"/>
  <path d="M0 400H1225"/>
  <path d="M0 497H1225"/>
  <path d="M0 593.5H1225"/>
</g>
<!-- bars -->
<rect x="546.5" y="134.2" width="484" height="48.5" fill="url(#hatchR)"/>
<rect x="546.5" y="231.2" width="707.3" height="48" fill="url(#hatchB)"/>
<rect x="546.5" y="327.3" width="375.3" height="48.4" fill="url(#hatchB)"/>
<rect x="546.5" y="424.3" width="153.5" height="48.4" fill="url(#hatchB)"/>
<rect x="291" y="521.2" width="255.5" height="48.5" fill="url(#hatchB)"/>
<rect x="546.5" y="617.3" width="475" height="48.6" fill="url(#hatchB)"/>
<!-- axes -->
<g stroke="#e5474c" stroke-width="1.6" fill="none">
  <path d="M546.7 110.3V715"/>
  <path d="M290.8 714.5H1240.8"/>
  <path d="M315.2 699V714.5M778 699V714.5M1008.6 699V714.5M1240 699V714.5"/>
</g>
<!-- value labels -->
<g fill="#fff">
  <rect x="758.1" y="141.5" width="61.1" height="33.6"/>
  <rect x="870" y="238.4" width="61" height="33.8"/>
  <rect x="703.6" y="335" width="61.6" height="33.6"/>
  <rect x="599.1" y="432" width="47.9" height="33.8"/>
  <rect x="384" y="528.6" width="70.1" height="34.4"/>
  <rect x="753.9" y="625" width="60.6" height="34"/>
</g>
<g id="man-left">
<path d="M355.8 331.0L417.8 331.0C417.8 331.0 416.1 354.4 415.2 366.4C414.2 378.3 413.0 392.1 412.1 402.7C411.2 413.3 410.4 419.4 409.7 430.0C409.0 440.6 408.9 453.6 407.9 466.4C406.9 479.2 403.6 506.8 403.6 506.8L389.1 507.6C389.1 507.6 387.8 505.0 387.3 502.7C385.8 495.8 382.1 478.8 380.0 466.4C377.9 453.9 374.8 428.0 374.8 428.0C374.8 428.0 368.4 447.9 364.2 460.3C360.0 472.8 352.4 494.9 349.7 502.7C349.0 504.6 347.9 506.8 347.9 506.8L333.9 505.6C333.9 505.6 334.3 479.0 335.2 466.4C336.1 453.8 337.2 440.6 339.4 430.0C341.6 419.4 346.2 411.3 348.5 402.7C350.8 394.1 352.2 385.6 353.3 378.5C354.4 371.4 354.8 368.2 355.2 360.3C355.6 352.4 355.8 331.0 355.8 331.0Z" fill="#ff9539"/>
<path d="M405.5 334.8L417.6 331.2C417.6 331.2 416.0 357.4 415.2 366.4C414.5 374.9 412.9 385.0 412.9 385.0C412.9 385.0 408.6 392.9 405.5 397.9C402.4 402.9 397.9 409.4 394.5 414.8C391.1 420.2 387.3 426.0 384.8 430.0C382.3 434.0 379.5 439.0 379.5 439.0L374.8 428.0C374.8 428.0 379.9 409.9 382.4 402.7C384.9 395.4 387.3 390.6 389.7 384.5C392.1 378.4 394.4 374.7 397.0 366.4C399.6 358.1 405.5 334.8 405.5 334.8Z" fill="#ff7f1e"/>
<path d="M333.9 505.2L347.3 506.4C347.3 506.4 349.5 510.7 352.1 512.4C354.7 514.1 359.9 515.6 363.0 516.7C366.1 517.8 369.0 518.5 370.5 519.2C371.4 519.6 372.0 520.9 372.0 520.9L333.6 520.9C333.6 520.9 332.6 517.4 332.7 514.8C332.8 512.2 333.9 505.2 333.9 505.2Z" fill="#2a5597"/>
<path d="M389.1 507.6L403.0 506.4C403.0 506.4 404.5 509.7 406.7 511.2C408.9 512.7 413.2 514.2 416.4 515.5C419.6 516.8 423.9 518.3 425.7 519.2C426.6 519.7 427.2 520.9 427.2 520.9L388.9 520.9C388.9 520.9 388.2 517.0 388.2 514.8C388.2 512.6 389.1 507.6 389.1 507.6Z" fill="#2a5597"/>
<path d="M383.6 183.8C383.6 183.8 389.9 182.0 392.1 181.4C394.3 180.8 397.0 180.4 397.0 180.4C397.0 180.4 398.3 183.2 398.8 185.0C399.3 186.8 399.7 188.9 400.0 191.1C400.3 193.3 400.5 196.1 400.4 198.3C400.3 200.5 400.1 202.8 399.6 204.4C399.1 206.0 398.2 207.1 397.6 208.0C397.0 208.9 395.8 209.8 395.8 209.8L395.8 223.0L375.2 222.0C375.2 222.0 375.2 215.8 375.4 212.9C375.5 210.0 376.0 207.2 376.1 204.6C376.2 202.0 375.5 199.0 375.8 197.1C376.1 195.2 377.2 194.3 378.2 192.9C379.2 191.5 380.9 190.1 381.8 188.6C382.7 187.1 383.6 183.8 383.6 183.8Z" fill="#ffa466"/>
<path d="M382.4 209.2C382.4 209.2 386.8 210.3 389.0 210.6C391.2 210.9 395.8 211.1 395.8 211.1L395.8 215.6C395.8 215.6 391.5 215.0 389.7 214.3C387.9 213.7 386.0 212.5 384.8 211.7C383.6 210.8 382.4 209.2 382.4 209.2Z" fill="#ff9248"/>
<path d="M358.8 182.6C359.1 181.0 359.5 178.4 360.6 176.5C361.7 174.6 363.5 172.5 365.5 171.1C367.5 169.7 370.5 168.9 372.7 168.0C374.9 167.1 376.8 166.3 378.8 165.8C380.8 165.3 382.8 165.0 384.8 165.0C386.8 165.0 389.1 165.2 390.9 165.8C392.7 166.4 394.6 167.3 395.8 168.6C397.1 169.9 397.9 172.2 398.4 173.5C398.9 174.8 399.0 175.4 398.8 176.5C398.6 177.6 398.1 179.4 397.0 180.2C395.9 181.0 393.7 181.1 392.1 181.4C390.5 181.7 388.7 181.6 387.3 182.0C385.9 182.4 384.5 182.7 383.6 183.8C382.7 184.9 382.2 187.3 381.8 188.6C381.4 189.9 381.6 191.0 381.0 191.7C380.4 192.4 379.0 192.4 378.2 192.9C377.4 193.4 376.8 194.0 376.4 194.7C376.0 195.4 375.8 196.0 375.8 197.1C375.8 198.3 376.3 200.8 376.4 202.0C376.4 203.2 376.1 204.6 376.1 204.6C376.1 204.6 374.9 205.4 373.9 205.0C372.7 204.6 370.7 203.3 369.1 202.0C367.5 200.7 365.6 198.9 364.2 197.1C362.8 195.3 361.5 192.9 360.6 191.1C359.7 189.3 359.1 187.6 358.8 186.2C358.5 184.8 358.5 184.2 358.8 182.6Z" fill="#1f4e9f"/>
<path d="M352.1 160.2C352.9 159.2 354.9 158.7 357.0 158.3C359.1 157.9 363.4 157.5 364.8 157.7C365.7 157.8 366.0 158.8 365.5 159.5C364.8 160.4 362.0 161.9 360.6 163.2C359.2 164.5 357.0 167.4 357.0 167.4L353.9 167.4C353.9 167.4 352.7 165.6 352.4 164.4C352.1 163.2 351.3 161.2 352.1 160.2Z" fill="#ffa466"/>
<path d="M391.5 159.5C391.7 159.0 395.0 158.4 397.0 158.3C399.0 158.2 402.1 158.3 403.6 158.9C405.1 159.5 405.6 161.0 406.1 162.0C406.6 163.0 406.7 165.0 406.7 165.0L404.2 167.1C404.2 167.1 402.0 165.3 400.6 164.4C399.2 163.5 397.3 162.2 395.8 161.4C394.3 160.6 391.3 160.0 391.5 159.5Z" fill="#ffa466"/>
<path d="M352.1 164.4C352.1 164.4 344.0 169.5 340.0 172.3C336.0 175.1 331.3 178.7 327.9 181.4C324.5 184.1 321.3 186.7 319.4 188.6C317.8 190.3 317.0 191.5 316.7 192.9C316.4 194.3 317.0 195.2 317.6 197.1C318.4 199.4 319.5 203.0 321.2 206.8C322.9 210.7 325.4 215.5 327.9 220.2C330.4 224.8 334.0 230.6 336.4 234.7C338.8 238.8 339.8 241.8 342.4 245.0C345.0 248.2 352.1 254.0 352.1 254.0C352.1 254.0 351.8 313.1 352.1 326.0C352.2 328.6 351.6 330.4 354.0 331.5C357.3 333.1 366.0 334.7 372.0 335.5C378.0 336.3 384.0 336.7 390.0 336.5C396.0 336.3 402.9 335.5 408.0 334.5C413.1 333.5 418.1 332.9 420.5 330.5C422.9 328.1 422.4 324.9 422.4 320.0C422.4 311.6 420.8 292.5 420.6 280.0C420.4 267.5 421.2 245.0 421.2 245.0C421.2 245.0 425.9 239.6 428.5 235.9C431.1 232.2 434.6 227.2 437.0 222.6C439.4 217.9 441.5 212.4 443.0 208.0C444.5 203.6 445.5 199.5 446.1 195.9C446.8 192.3 447.0 188.4 446.9 186.2C446.8 184.4 446.8 183.8 445.5 182.6C443.6 181.0 439.9 178.7 435.8 176.5C431.8 174.3 426.1 171.5 421.2 169.2C416.3 166.9 406.7 162.6 406.7 162.6L404.8 167.1C404.8 167.1 412.4 174.1 416.4 177.7C420.3 181.3 428.5 188.6 428.5 188.6C428.5 188.6 423.8 196.6 421.2 200.8C418.6 205.1 412.7 214.1 412.7 214.1C412.7 214.1 407.0 216.5 404.2 217.7C401.4 218.9 395.8 221.4 395.8 221.4C395.8 221.4 389.4 222.9 386.0 222.5C382.6 222.1 375.2 218.9 375.2 218.9C375.2 218.9 366.6 218.3 363.0 217.7C359.4 217.1 353.3 215.3 353.3 215.3C353.3 215.3 345.4 206.7 342.4 203.2C339.4 199.7 335.2 194.1 335.2 194.1C335.2 194.1 342.9 184.5 346.1 180.2C349.3 175.8 354.5 168.0 354.5 168.0L352.1 164.4Z" fill="#a5bffb"/>
<path d="M352.1 254.0C352.1 254.0 358.0 257.9 360.6 260.8C363.2 263.8 366.3 266.2 367.9 271.7C369.5 277.1 370.0 285.8 370.3 293.5C370.6 301.2 370.1 310.8 369.7 317.7C369.3 324.6 367.9 335.0 367.9 335.0C367.9 335.0 356.6 333.0 354.0 331.5C351.7 330.2 352.1 326.0 352.1 326.0L352.1 254.0Z" fill="#8fadf1"/>
<path d="M377.6 222.4C377.6 222.4 381.5 225.7 384.8 226.8C388.1 227.9 397.4 228.8 397.4 228.8C397.4 228.8 395.1 230.4 393.0 230.4C390.7 230.4 386.0 229.6 383.6 228.8C381.2 228.0 379.6 226.5 378.6 225.4C377.6 224.4 377.6 222.4 377.6 222.4Z" fill="#8fadf1"/>
</g>
<g id="man-right">
<ellipse cx="1075.8" cy="367.4" rx="81.2" ry="80.3" fill="#f2951b"/>
<ellipse cx="1082.3" cy="366.8" rx="79.6" ry="78.6" fill="#ffb73f"/>
<ellipse cx="1083" cy="367" rx="70.3" ry="69" fill="none" stroke="#ffa822" stroke-width="4"/>
<g fill="none" stroke="#ffa822"><path d="M1059.5 357C1058 340 1068 335 1080 335.5C1094 336 1101 345 1098 355C1095 365 1080 368 1072 374C1062 381 1062 392 1067 398C1073 405 1090 407 1099 400C1104 396 1106 391 1106 384.5" stroke-width="16.5"/><path d="M1074.8 316L1076.6 332M1085.8 408L1087.8 422.5" stroke-width="8.6"/></g>
<path d="M979.1 688.9C979.1 688.9 987.0 686.6 991.8 685.8C996.6 684.9 1003.1 685.6 1008.0 683.8C1012.9 682.0 1021.0 675.0 1021.0 675.0L1043.0 689.0L1024.7 713.6L1017.3 713.6C1017.3 713.6 1008.8 706.8 1002.4 702.7C996.0 698.6 979.1 688.9 979.1 688.9Z" fill="#223c77"/>
<path d="M1112.7 713.6C1112.7 713.6 1110.7 711.4 1111.7 710.2C1112.8 708.9 1115.8 707.3 1119.1 705.9C1122.4 704.5 1129.2 703.9 1131.8 701.7C1134.4 699.6 1134.5 693.0 1134.5 693.0L1157.3 691.0C1157.3 691.0 1159.0 701.1 1159.0 704.9C1159.0 708.7 1157.3 713.6 1157.3 713.6L1112.7 713.6Z" fill="#223c77"/>
<path d="M1129.2 475.6L1170.0 470.0L1214.8 483.2C1214.8 483.2 1213.1 494.4 1210.3 500.6C1207.5 506.8 1203.2 513.2 1198.2 520.3C1193.2 527.4 1185.2 535.9 1180.0 543.0C1174.8 550.1 1170.6 557.6 1167.0 563.0C1163.4 568.4 1160.4 570.7 1158.2 575.2C1156.0 579.8 1153.9 583.1 1153.6 590.3C1153.3 597.9 1155.5 610.4 1156.5 620.6C1157.5 630.9 1158.8 639.6 1159.5 651.8C1160.2 664.0 1160.5 694.0 1160.5 694.0L1129.7 696.0C1129.7 696.0 1124.8 675.0 1121.2 662.4C1117.6 649.8 1108.2 620.2 1108.2 620.2C1108.2 620.2 1101.9 627.0 1096.7 632.7C1090.0 640.2 1077.3 655.2 1068.0 665.0C1058.7 674.8 1040.6 691.5 1040.6 691.5L1019.4 677.3C1019.4 677.3 1034.3 650.5 1040.0 641.0C1045.7 631.5 1048.2 629.0 1053.3 620.0C1058.3 611.0 1065.1 597.0 1070.3 587.3C1075.5 577.6 1079.6 570.9 1084.5 562.0C1089.4 553.1 1094.1 544.1 1099.7 533.9C1105.3 523.7 1113.0 510.3 1117.9 500.6C1122.8 490.9 1129.2 475.6 1129.2 475.6Z" fill="#2b4a93"/>
<path d="M1129.2 475.6L1145.2 480.9C1145.2 480.9 1135.1 496.1 1130.0 505.2C1124.9 514.3 1119.1 525.5 1114.8 535.5C1110.5 545.5 1105.8 554.6 1104.2 565.0C1102.6 575.4 1104.4 588.6 1105.2 597.9C1106.0 607.2 1108.9 620.6 1108.9 620.6L1097.6 632.7C1097.6 632.7 1093.4 622.2 1091.5 613.0C1089.5 603.4 1086.6 583.9 1085.5 575.2C1084.7 568.8 1084.8 561.0 1084.8 561.0C1084.8 561.0 1094.2 544.0 1099.7 533.9C1105.2 523.8 1113.0 510.3 1117.9 500.6C1122.8 490.9 1129.2 475.6 1129.2 475.6Z" fill="#233d7a"/>
<path d="M1207.0 266.4C1204.0 266.6 1201.7 272.9 1199.7 276.1C1197.7 279.3 1196.1 282.8 1194.8 285.8C1193.5 288.8 1192.4 292.0 1191.8 294.2C1191.2 296.4 1191.0 297.6 1191.2 299.1C1191.4 300.6 1191.6 301.7 1193.0 303.3C1194.4 304.9 1199.7 308.8 1199.7 308.8L1198.8 329.0L1228.5 328.0L1224.5 307.0L1222.7 302.7C1222.7 302.7 1226.4 300.5 1227.6 299.1C1228.8 297.7 1230.0 295.5 1230.0 294.2C1230.0 292.9 1228.8 291.8 1227.6 291.2C1226.4 290.6 1222.7 290.6 1222.7 290.6C1222.7 290.6 1222.3 285.9 1221.5 283.3C1220.7 280.7 1220.3 277.6 1217.9 274.8C1215.5 272.0 1210.0 266.2 1207.0 266.4Z" fill="#fcaa72"/>
<path d="M1199.7 308.8C1199.7 308.8 1207.4 311.4 1210.6 311.5C1213.8 311.6 1217.0 310.0 1219.1 309.4C1221.1 308.8 1223.3 307.6 1223.3 307.6C1223.3 307.6 1220.4 312.0 1217.9 313.6C1215.4 315.2 1211.3 316.5 1208.2 317.3C1205.1 318.1 1199.5 318.2 1199.5 318.2L1199.7 308.8Z" fill="#ee9558"/>
<path d="M1205.2 244.5C1205.2 244.5 1209.1 248.6 1213.0 249.4C1216.9 250.2 1224.0 248.9 1228.8 249.4C1233.6 249.9 1238.3 250.6 1242.1 252.4C1245.9 254.2 1249.6 258.1 1251.8 260.3C1253.8 262.3 1255.3 265.4 1255.3 265.4L1256.7 258.6C1256.7 258.6 1256.6 267.6 1257.3 271.2C1258.0 274.8 1260.9 280.0 1260.9 280.0L1256.7 276.7C1256.7 276.7 1256.7 284.7 1255.5 288.2C1254.3 291.7 1252.4 295.6 1249.4 297.9C1246.4 300.2 1241.5 300.6 1237.3 302.1C1233.1 303.6 1224.5 307.0 1224.5 307.0L1222.7 302.7C1222.7 302.7 1226.4 300.5 1227.6 299.1C1228.8 297.7 1230.0 295.5 1230.0 294.2C1230.0 292.9 1228.8 291.8 1227.6 291.2C1226.4 290.6 1222.7 290.6 1222.7 290.6C1222.7 290.6 1222.3 285.9 1221.5 283.3C1220.7 280.7 1220.3 277.6 1217.9 274.8C1215.5 272.0 1209.4 269.4 1207.0 266.4C1204.6 263.4 1203.6 260.3 1203.3 256.7C1203.0 253.0 1205.2 244.5 1205.2 244.5Z" fill="#1f3a6e"/>
<path d="M1197.0 327.4C1197.0 327.4 1207.5 329.8 1213.0 329.5C1218.5 329.2 1230.3 325.9 1230.3 325.9C1230.3 325.9 1235.6 332.4 1237.9 337.3C1240.2 342.2 1242.7 349.4 1243.9 355.5C1245.1 361.6 1245.2 366.0 1245.0 373.6C1244.8 381.2 1244.2 390.5 1242.4 400.9C1240.7 411.3 1237.3 425.7 1234.5 436.0C1231.7 446.3 1228.8 454.8 1225.5 462.7C1222.2 470.6 1214.8 483.2 1214.8 483.2C1214.8 483.2 1200.9 485.8 1193.6 486.2C1186.3 486.6 1179.2 486.8 1170.9 485.8C1162.6 484.8 1150.8 482.0 1143.6 480.0C1136.4 478.0 1128.0 474.0 1128.0 474.0C1128.0 474.0 1127.9 466.7 1128.5 463.5C1129.1 460.3 1130.0 458.7 1131.5 454.8C1133.3 450.2 1139.1 435.6 1139.1 435.6C1139.1 435.6 1125.8 441.8 1116.4 445.8C1107.1 449.8 1083.0 459.8 1083.0 459.8L1076.5 444.0C1076.5 444.0 1091.1 432.2 1100.0 425.0C1108.9 417.8 1120.7 408.6 1130.0 401.0C1139.3 393.4 1156.1 379.7 1156.1 379.7C1156.1 379.7 1158.6 371.2 1160.6 366.1C1162.6 361.1 1164.7 354.7 1168.2 349.4C1171.7 344.1 1177.0 337.9 1181.8 334.2C1186.6 330.5 1197.0 327.4 1197.0 327.4Z" fill="#d1e2fc"/>
<path d="M1216.7 384.2C1216.7 384.2 1204.3 398.5 1197.0 407.0C1189.7 415.5 1179.8 428.0 1172.7 435.0C1165.6 442.0 1161.1 444.4 1154.2 448.8C1147.3 453.2 1131.5 461.5 1131.5 461.5C1131.5 461.5 1133.2 451.2 1134.5 447.0C1135.8 442.8 1139.1 436.5 1139.1 436.5C1139.1 436.5 1156.4 424.9 1165.0 419.0C1173.6 413.1 1182.3 406.7 1190.9 400.9C1199.5 395.1 1216.7 384.2 1216.7 384.2Z" fill="#a6c6fb"/>
<path d="M1055.8 448.8C1056.7 446.8 1058.5 445.1 1061.8 444.2C1065.2 443.3 1076.0 443.5 1076.0 443.5L1083.0 459.4C1083.0 459.4 1079.9 461.5 1077.0 461.7C1074.0 461.9 1068.2 461.8 1064.8 460.9C1061.4 460.0 1058.0 458.4 1056.5 456.4C1055.0 454.4 1054.9 450.8 1055.8 448.8Z" fill="#fcaa72"/>
</g>
<g id="bag">
<path d="M131.2 751.6C131.2 751.6 136.6 741.0 140.3 735.2C144.0 729.4 148.9 721.9 153.6 717.0C158.2 712.1 163.5 708.9 168.2 706.1C172.8 703.3 175.7 700.8 181.5 700.0C187.3 699.2 197.9 699.8 203.3 701.2C208.8 702.6 210.8 705.3 214.2 708.5C217.6 711.7 221.3 715.8 223.9 720.6C226.5 725.5 228.8 732.4 230.0 737.6C231.2 742.8 231.2 751.6 231.2 751.6L131.2 751.6Z" fill="#fde8d7"/>
<path d="M153.6 736.4C153.4 733.4 159.1 726.8 162.1 723.0C165.1 719.2 167.6 714.7 171.8 713.9C176.1 713.1 181.3 717.3 187.6 718.2C193.9 719.1 205.2 717.0 209.4 719.4C213.6 721.8 212.5 728.7 213.0 732.7C213.5 736.7 217.1 741.9 212.4 743.6C207.3 745.4 190.9 744.0 182.7 743.6C174.5 743.2 168.2 742.4 163.3 741.2C158.5 740.0 153.8 739.4 153.6 736.4Z" fill="#fcdabb"/>
<path d="M182.7 679.4C183.6 678.1 185.8 676.2 187.6 676.4C189.4 676.6 191.6 680.1 193.6 680.6C195.6 681.1 197.7 679.0 199.7 679.4C201.7 679.8 204.0 681.7 205.8 683.0C207.6 684.3 210.6 685.7 210.6 687.3C210.6 688.9 207.3 691.2 205.8 692.7C204.3 694.2 201.5 696.5 201.5 696.5L185.2 694.0C185.2 694.0 182.5 686.6 182.1 684.2C181.7 682.0 181.8 680.7 182.7 679.4Z" fill="#fde8d7"/>
<path d="M191.8 679.8L196.6 690.0L193.2 687.5L191.8 679.8Z" fill="#f3caa3"/>
<path d="M202.8 689.6L206.8 683.0L210.6 687.3L202.8 689.6Z" fill="#f3caa3"/>
<path d="M181.5 697.6C181.7 696.3 183.4 692.6 185.2 692.1C187.0 691.6 189.7 694.0 192.4 694.5C195.1 695.0 199.7 694.3 201.5 695.2C203.3 696.1 204.6 698.9 203.3 700.0C202.0 701.1 196.8 701.8 193.6 701.8C190.4 701.8 185.9 700.7 183.9 700.0C182.4 699.5 181.3 698.9 181.5 697.6Z" fill="#2447a0"/>
</g>
</svg>
<!-- text layer -->
<div id="txt">
<div class="t w" style="transform:translateY(30.20px);font-size:42.30px;letter-spacing:3.00px"><span style="transform:translateX(113.09px) scaleX(0.6421);text-shadow:0.93px 0 0,-0.93px 0 0,1.87px 0 0,-1.87px 0 0"><i style="clip-path:polygon(-1em -1em,2em -1em,2em 0.697em,0.427em 0.697em,0.427em 2em,0.177em 2em,0.177em 0.697em,-1em 0.697em)">1</i>0.</span> <span style="transform:translateX(158.79px) scaleX(0.5756);text-shadow:1.04px 0 0,-1.04px 0 0,2.08px 0 0,-2.08px 0 0">ábra:</span> <span style="transform:translateX(232.40px) scaleX(0.5986);text-shadow:1.00px 0 0,-1.00px 0 0,2.00px 0 0,-2.00px 0 0">Nettó</span> <span style="transform:translateX(312.90px) scaleX(0.5738);text-shadow:1.05px 0 0,-1.05px 0 0,2.09px 0 0,-2.09px 0 0">veszteség</span> <span style="transform:translateX(449.70px) scaleX(0.5780);text-shadow:1.04px 0 0,-1.04px 0 0,2.08px 0 0,-2.08px 0 0">változása</span> <span style="transform:translateX(583.26px) scaleX(0.5189);text-shadow:1.16px 0 0,-1.16px 0 0,2.31px 0 0,-2.31px 0 0">a</span> <span style="transform:translateX(604.43px) scaleX(0.5850);text-shadow:1.03px 0 0,-1.03px 0 0,2.05px 0 0,-2.05px 0 0">székely</span> <span style="transform:translateX(711.94px) scaleX(0.5842);text-shadow:1.03px 0 0,-1.03px 0 0,2.05px 0 0,-2.05px 0 0">székek</span> <span style="transform:translateX(812.90px) scaleX(0.5848);text-shadow:1.03px 0 0,-1.03px 0 0,2.05px 0 0,-2.05px 0 0">vállalkozóinál</span> <span style="transform:translateX(1004.74px) scaleX(0.6422);text-shadow:0.93px 0 0,-0.93px 0 0,1.87px 0 0,-1.87px 0 0">(2024/2023,</span> <span style="transform:translateX(1177.35px) scaleX(0.5182);text-shadow:1.16px 0 0,-1.16px 0 0,2.32px 0 0,-2.32px 0 0">%)</span></div>
<div class="t" style="transform:translate(131.41px,141.20px) scaleX(0.7084);font-size:31.40px;letter-spacing:2.50px;text-shadow:0.64px 0 0,-0.64px 0 0,1.27px 0 0,-1.27px 0 0">Románia</div>
<div class="t" style="transform:translate(122.41px,238.20px) scaleX(0.7098);font-size:31.40px;letter-spacing:2.50px;text-shadow:0.63px 0 0,-0.63px 0 0,1.27px 0 0,-1.27px 0 0">Kézdiszék</div>
<div class="t" style="transform:translate(123.87px,334.20px) scaleX(0.6931);font-size:31.40px;letter-spacing:2.50px;text-shadow:0.65px 0 0,-0.65px 0 0,1.30px 0 0,-1.30px 0 0">Sepsiszék</div>
<div class="t" style="transform:translate(105.59px,431.20px) scaleX(0.7066);font-size:31.40px;letter-spacing:2.50px;text-shadow:0.64px 0 0,-0.64px 0 0,1.27px 0 0,-1.27px 0 0">Gyergyószék</div>
<div class="t" style="transform:translate(130.40px,528.20px) scaleX(0.6963);font-size:31.40px;letter-spacing:2.50px;text-shadow:0.65px 0 0,-0.65px 0 0,1.29px 0 0,-1.29px 0 0">Csíkszék</div>
<div class="t" style="transform:translate(92.13px,624.20px) scaleX(0.7264);font-size:31.40px;letter-spacing:2.50px;text-shadow:0.62px 0 0,-0.62px 0 0,1.24px 0 0,-1.24px 0 0">Udvarhelyszék</div>
<div class="t" style="transform:translate(765.99px,142.20px) scaleX(0.7414);font-size:31.20px;letter-spacing:1.50px;text-shadow:0.67px 0 0,-0.67px 0 0,1.35px 0 0,-1.35px 0 0">2<i style="clip-path:polygon(-1em -1em,2em -1em,2em 0.689em,0.426em 0.689em,0.426em 2em,0.178em 2em,0.178em 0.689em,-1em 0.689em)">1</i>%</div>
<div class="t" style="transform:translate(877.47px,239.20px) scaleX(0.7434);font-size:31.20px;letter-spacing:1.50px;text-shadow:0.67px 0 0,-0.67px 0 0,1.35px 0 0,-1.35px 0 0">3<i style="clip-path:polygon(-1em -1em,2em -1em,2em 0.689em,0.426em 0.689em,0.426em 2em,0.178em 2em,0.178em 0.689em,-1em 0.689em)">1</i>%</div>
<div class="t" style="transform:translate(710.69px,336.20px) scaleX(0.7678);font-size:31.20px;letter-spacing:1.50px;text-shadow:0.65px 0 0,-0.65px 0 0,1.30px 0 0,-1.30px 0 0"><i style="clip-path:polygon(-1em -1em,2em -1em,2em 0.689em,0.425em 0.689em,0.425em 2em,0.179em 2em,0.179em 0.689em,-1em 0.689em)">1</i>6%</div>
<div class="t" style="transform:translate(605.82px,433.20px) scaleX(0.7314);font-size:31.20px;letter-spacing:1.50px;text-shadow:0.68px 0 0,-0.68px 0 0,1.37px 0 0,-1.37px 0 0">7%</div>
<div class="t" style="transform:translate(391.42px,530.20px) scaleX(0.7255);font-size:31.20px;letter-spacing:1.50px;text-shadow:0.69px 0 0,-0.69px 0 0,1.38px 0 0,-1.38px 0 0">–<i style="clip-path:polygon(-1em -1em,2em -1em,2em 0.689em,0.427em 0.689em,0.427em 2em,0.177em 2em,0.177em 0.689em,-1em 0.689em)">1</i><i style="clip-path:polygon(-1em -1em,2em -1em,2em 0.689em,0.427em 0.689em,0.427em 2em,0.177em 2em,0.177em 0.689em,-1em 0.689em)">1</i>%</div>
<div class="t" style="transform:translate(761.29px,626.20px) scaleX(0.7431);font-size:31.20px;letter-spacing:1.50px;text-shadow:0.67px 0 0,-0.67px 0 0,1.35px 0 0,-1.35px 0 0">2<i style="clip-path:polygon(-1em -1em,2em -1em,2em 0.689em,0.426em 0.689em,0.426em 2em,0.178em 2em,0.178em 0.689em,-1em 0.689em)">1</i>%</div>
<div class="t" style="transform:translate(297.84px,729.20px) scaleX(0.7642);font-size:28.60px;letter-spacing:1.00px;text-shadow:0.59px 0 0,-0.59px 0 0,1.18px 0 0,-1.18px 0 0">–<i style="clip-path:polygon(-1em -1em,2em -1em,2em 0.682em,0.424em 0.682em,0.424em 2em,0.180em 2em,0.180em 0.682em,-1em 0.682em)">1</i>0</div>
<div class="t" style="transform:translate(540.57px,729.20px) scaleX(0.8171);font-size:28.60px;letter-spacing:0.00px;text-shadow:0.55px 0 0,-0.55px 0 0,1.10px 0 0,-1.10px 0 0">0</div>
<div class="t" style="transform:translate(765.55px,729.20px) scaleX(0.8616);font-size:28.60px;letter-spacing:1.00px;text-shadow:0.52px 0 0,-0.52px 0 0,1.04px 0 0,-1.04px 0 0"><i style="clip-path:polygon(-1em -1em,2em -1em,2em 0.682em,0.420em 0.682em,0.420em 2em,0.184em 2em,0.184em 0.682em,-1em 0.682em)">1</i>0</div>
<div class="t" style="transform:translate(994.75px,729.20px) scaleX(0.8487);font-size:28.60px;letter-spacing:1.00px;text-shadow:0.53px 0 0,-0.53px 0 0,1.06px 0 0,-1.06px 0 0">20</div>
<div class="t" style="transform:translate(1226.55px,729.20px) scaleX(0.8329);font-size:28.60px;letter-spacing:1.00px;text-shadow:0.54px 0 0,-0.54px 0 0,1.08px 0 0,-1.08px 0 0">30</div>
</div>
</div>
</body>
</html>
